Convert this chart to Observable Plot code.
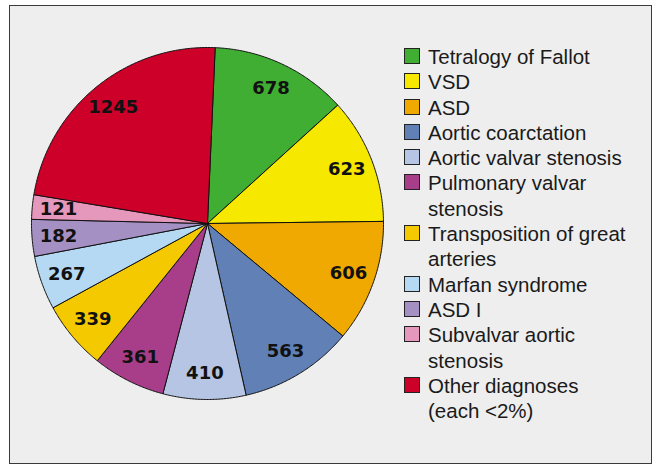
<!DOCTYPE html>
<html>
<head>
<meta charset="utf-8">
<script src="https://cdn.jsdelivr.net/npm/d3@7"></script>
<script src="https://cdn.jsdelivr.net/npm/@observablehq/plot@0.6"></script>
<style>
  html, body { margin: 0; padding: 0; background: #ffffff; }
  body { width: 660px; height: 468px; position: relative; overflow: hidden; font-family: "Liberation Sans", Arial, sans-serif; }
  #frame { position: absolute; left: 9px; top: 5px; width: 641px; height: 457px; border: 1px solid #3a3a3a; background: #eeeeee; }
  #chart { position: absolute; left: 0; top: 0; }
  #legend { position: absolute; left: 428px; top: 44px; font-size: 20.5px; line-height: 25.3px; color: #1a1a1a; }
  .item { position: relative; white-space: pre-line; }
  .sw { position: absolute; left: -24px; top: 4px; width: 16px; height: 16px; box-sizing: border-box; border: 1px solid #222; }
</style>
</head>
<body>
<div id="frame"></div>
<div id="chart"></div>
<div id="legend"></div>
<script>
// Data
const categories = [
  "Tetralogy of Fallot", "VSD", "ASD", "Aortic coarctation", "Aortic valvar stenosis",
  "Pulmonary valvar stenosis", "Transposition of great arteries", "Marfan syndrome",
  "ASD I", "Subvalvar aortic stenosis", "Other diagnoses (each <2%)"
];
const legendLabels = [
  "Tetralogy of Fallot", "VSD", "ASD", "Aortic coarctation", "Aortic valvar stenosis",
  "Pulmonary valvar\nstenosis", "Transposition of great\narteries", "Marfan syndrome",
  "ASD I", "Subvalvar aortic\nstenosis", "Other diagnoses\n(each <2%)"
];
const counts = [678, 623, 606, 563, 410, 361, 339, 267, 182, 121, 1245];
const palette = [
  "#40ae32", "#f7e800", "#f0a900", "#6080b6", "#b6c5e4", "#a83e8a",
  "#f5c900", "#b6d9f3", "#a590c4", "#e697bc", "#cc0029"
];

// Pie geometry (angles clockwise from 12 o'clock)
const offset = 2.5 * Math.PI / 180;
const arcs = d3.pie().sort(null).startAngle(offset).endAngle(offset + 2 * Math.PI)(counts);

const slicePts = [];
arcs.forEach((a, i) => {
  const cat = categories[i];
  slicePts.push({cat, x: 0, y: 0});
  const n = Math.max(4, Math.ceil((a.endAngle - a.startAngle) / (Math.PI / 360)));
  for (let k = 0; k <= n; k++) {
    const t = a.startAngle + (a.endAngle - a.startAngle) * k / n;
    slicePts.push({cat, x: Math.sin(t), y: Math.cos(t)});
  }
  slicePts.push({cat, x: 0, y: 0});
});

const labelR = 0.85;
const labels = arcs.map((a, i) => {
  const m = (a.startAngle + a.endAngle) / 2;
  return {cat: categories[i], value: counts[i], x: labelR * Math.sin(m), y: labelR * Math.cos(m)};
});

const plot = Plot.plot({
  width: 400,
  height: 468,
  margin: 0,
  style: {background: "transparent", overflow: "visible"},
  x: {domain: [-1, 1], range: [31, 383], axis: null},
  y: {domain: [-1, 1], range: [399, 47], axis: null},
  color: {domain: categories, range: palette},
  marks: [
    Plot.line(slicePts, {x: "x", y: "y", z: "cat", fill: "cat", stroke: "#111", strokeWidth: 1, strokeLinejoin: "round", curve: "linear"}),
    Plot.text(labels, {x: "x", y: "y", text: d => String(d.value), fill: "#111",
      fontSize: 18, fontWeight: "bold", fontFamily: "DejaVu Sans"})
  ]
});
document.getElementById("chart").appendChild(plot);

// Legend
const legend = document.getElementById("legend");
legendLabels.forEach((lab, i) => {
  const div = document.createElement("div");
  div.className = "item";
  const sw = document.createElement("span");
  sw.className = "sw";
  sw.style.background = palette[i];
  div.appendChild(sw);
  div.appendChild(document.createTextNode(lab));
  legend.appendChild(div);
});
</script>
</body>
</html>
